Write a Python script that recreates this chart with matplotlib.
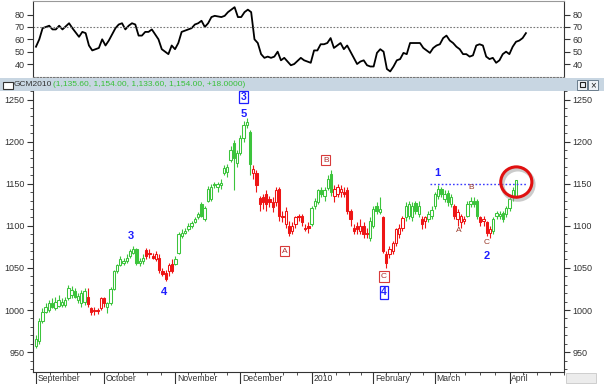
import numpy as np
import matplotlib.pyplot as plt
from matplotlib.patches import Ellipse, Rectangle
from matplotlib.transforms import blended_transform_factory

plt.rcParams['font.family'] = ['Liberation Sans', 'DejaVu Sans']

# daily bars of GCM2010, Sep 2009 - Apr 2010
opens = [957, 963, 987, 998, 1000, 1008, 1002, 1005, 1006, 1006, 1014, 1018, 1022, 1012, 1008, 1010,
         1016, 1002, 1000, 1000, 1002, 1014, 1003, 1008, 1025, 1046, 1054, 1056, 1058, 1064, 1068, 1072,
         1056, 1058, 1071, 1068, 1064, 1060, 1062, 1046, 1044, 1046, 1055, 1055, 1068, 1088, 1092, 1096,
         1100, 1105, 1110, 1126, 1108, 1130, 1132, 1150, 1146, 1148, 1163, 1164, 1178, 1198, 1175, 1187,
         1204, 1220, 1211, 1163, 1163, 1133, 1134, 1138, 1132, 1128, 1128, 1144, 1112, 1102, 1100, 1094,
         1102, 1112, 1112, 1098, 1100, 1102, 1124, 1128, 1142, 1136, 1145, 1162, 1136, 1138, 1140, 1140,
         1142, 1118, 1098, 1100, 1094, 1100, 1092, 1086, 1100, 1124, 1116, 1110, 1066, 1066, 1070, 1080,
         1090, 1097, 1110, 1112, 1110, 1127, 1114, 1108, 1106, 1108, 1112, 1124, 1136, 1144, 1132, 1139,
         1126, 1124, 1108, 1104, 1106, 1112, 1126, 1130, 1130, 1110, 1106, 1104, 1092, 1094, 1112, 1112,
         1115, 1114, 1121, 1134, 1135.6]
closes = [966, 987, 998, 1004, 1008, 1004, 1010, 1012, 1010, 1012, 1026, 1024, 1016, 1017, 1020, 1022,
          1007, 998, 999, 999, 1014, 1008, 1008, 1025, 1046, 1053, 1060, 1058, 1062, 1070, 1072, 1056,
          1058, 1062, 1064, 1066, 1062, 1066, 1048, 1043, 1037, 1053, 1046, 1060, 1090, 1092, 1094, 1100,
          1103, 1108, 1114, 1112, 1121, 1144, 1146, 1148, 1150, 1151, 1169, 1170, 1190, 1181, 1187, 1204,
          1220, 1223, 1174, 1168, 1148, 1126, 1128, 1126, 1128, 1122, 1142, 1112, 1110, 1118, 1092, 1100,
          1110, 1111, 1104, 1096, 1097, 1121, 1130, 1142, 1138, 1142, 1156, 1140, 1144, 1146, 1144, 1138,
          1118, 1108, 1094, 1096, 1100, 1090, 1090, 1106, 1120, 1118, 1120, 1070, 1056, 1072, 1080, 1096,
          1098, 1109, 1124, 1126, 1124, 1118, 1124, 1102, 1110, 1114, 1119, 1138, 1144, 1138, 1138, 1128,
          1134, 1112, 1116, 1112, 1108, 1126, 1130, 1126, 1112, 1104, 1108, 1092, 1096, 1108, 1115, 1114,
          1108, 1121, 1132, 1142, 1154]
highs = [970, 990, 1002, 1008, 1012, 1014, 1016, 1018, 1014, 1016, 1030, 1028, 1026, 1020, 1024, 1026,
         1026, 1004, 1003, 1002, 1016, 1016, 1010, 1027, 1048, 1055, 1064, 1062, 1066, 1073, 1076, 1074,
         1062, 1066, 1074, 1072, 1068, 1070, 1066, 1050, 1048, 1056, 1060, 1064, 1093, 1096, 1097, 1103,
         1106, 1110, 1117, 1128, 1124, 1147, 1150, 1152, 1152, 1156, 1172, 1174, 1195, 1202, 1190, 1208,
         1224, 1228, 1214, 1172, 1166, 1136, 1138, 1142, 1136, 1134, 1146, 1146, 1118, 1122, 1106, 1104,
         1112, 1114, 1114, 1102, 1104, 1124, 1133, 1144, 1146, 1146, 1160, 1166, 1148, 1150, 1148, 1146,
         1146, 1120, 1102, 1104, 1108, 1104, 1098, 1110, 1124, 1128, 1134, 1112, 1070, 1076, 1082, 1098,
         1102, 1112, 1128, 1130, 1128, 1130, 1130, 1112, 1112, 1118, 1124, 1140, 1148, 1146, 1142, 1142,
         1138, 1126, 1120, 1114, 1112, 1130, 1134, 1134, 1132, 1112, 1112, 1106, 1100, 1110, 1118, 1118,
         1118, 1124, 1134, 1146, 1154]
lows = [955, 960, 985, 996, 998, 1002, 1000, 1003, 1004, 1003, 1012, 1014, 1014, 1008, 1004, 1006,
        1004, 994, 994, 995, 1000, 1004, 996, 1006, 1024, 1044, 1052, 1054, 1056, 1062, 1066, 1053,
        1052, 1055, 1060, 1062, 1060, 1058, 1044, 1040, 1034, 1040, 1044, 1053, 1066, 1086, 1090, 1094,
        1098, 1103, 1108, 1110, 1106, 1128, 1130, 1145, 1140, 1144, 1160, 1158, 1176, 1142, 1170, 1184,
        1200, 1216, 1160, 1156, 1140, 1118, 1120, 1118, 1122, 1116, 1124, 1106, 1104, 1098, 1088, 1090,
        1098, 1106, 1100, 1094, 1092, 1100, 1120, 1126, 1134, 1130, 1142, 1136, 1128, 1134, 1134, 1134,
        1114, 1100, 1090, 1090, 1090, 1086, 1086, 1082, 1098, 1114, 1114, 1068, 1050, 1062, 1066, 1076,
        1086, 1094, 1106, 1108, 1106, 1114, 1110, 1096, 1098, 1104, 1108, 1120, 1132, 1134, 1128, 1124,
        1122, 1108, 1100, 1098, 1102, 1110, 1122, 1122, 1108, 1100, 1100, 1088, 1086, 1090, 1108, 1108,
        1104, 1110, 1118, 1130, 1133.6]
# bar ranges drawn in red (down-trend), inclusive
red_spans = [(16, 21), (34, 42), (67, 84), (92, 102), (107, 113), (119, 120), (129, 132), (137, 140)]

# oscillator in the upper pane
rsi_day = [0, 1, 2, 3, 4, 5, 6, 7, 8, 10, 11, 13, 14, 15, 16, 17, 19, 20, 21, 22, 24, 25, 26, 27, 28,
           29, 30, 31, 32, 33, 34, 35, 36, 37, 38, 39, 40, 41, 42, 43, 44, 45, 47, 48, 49, 50, 51, 52,
           53, 54, 56, 57, 58, 59, 60, 61, 62, 63, 64, 65, 66, 67, 68, 69, 70, 71, 72, 73, 74, 75, 76,
           77, 78, 80, 81, 83, 84, 85, 86, 87, 88, 89, 90, 91, 92, 93, 94, 96, 97, 98, 99, 100, 101,
           102, 103, 104, 105, 106, 107, 108, 109, 110, 111, 112, 113, 114, 116, 117, 119, 120, 121,
           122, 123, 124, 125, 126, 127, 128, 129, 130, 131, 132, 133, 134, 135, 136, 137, 138, 139,
           140, 141, 142, 143, 144, 145, 146, 147, 148]
rsi_val = [54, 60, 69, 70, 71, 68, 68, 71, 68, 73, 69, 62, 66, 65, 55, 51, 53, 60, 55, 59, 69, 72, 73, 68, 71,
           73, 72, 63, 63, 66, 66, 68, 64, 60, 52, 50, 48, 55, 52, 57, 66, 67, 69, 72, 73, 75, 70, 73,
           78, 79, 78, 79, 82, 84, 86, 78, 78, 82, 84, 82, 60, 57, 48, 45, 46, 45, 46, 50, 43, 45, 42,
           39, 40, 45, 43, 41, 51, 51, 56, 56, 57, 61, 53, 55, 57, 52, 55, 45, 40, 42, 43, 39, 38,
           38, 49, 52, 50, 36, 34, 38, 43, 44, 49, 48, 57, 57, 57, 53, 49, 53, 55,
           56, 61, 63, 59, 57, 54, 52, 48, 48, 46, 47, 55, 56, 55, 46, 44, 45, 41,
           43, 48, 50, 48, 54, 58, 59, 61, 65]

month_day = [0, 21, 43, 63, 85, 104, 123, 146]
month_names = ['September', 'October', 'November', 'December', '2010', 'February', 'March', 'April']
price_ticks = [950, 1000, 1050, 1100, 1150, 1200, 1250]
rsi_ticks = [40, 50, 60, 70, 80]

GREEN = '#3cc43c'
RED = '#ee1515'
BLUE = '#1f1fff'
BOXRED = '#d83a3a'

W, H = 604, 384
fig = plt.figure(figsize=(W / 100, H / 100), dpi=100)


def box(l, t, r, b):
    return [l / W, 1 - b / H, (r - l) / W, (b - t) / H]


xlim = (-0.9, 159.5)

# ---- upper oscillator pane
ax_r = fig.add_axes(box(33, 1, 564, 77))
ax_r.plot(rsi_day, rsi_val, color='black', lw=1.3)
ax_r.axhline(70, color='#777777', lw=0.8, ls=(0, (1.5, 1.5)))
ax_r.set_xlim(*xlim)
ax_r.set_ylim(29.5, 91)
ax_r.set_yticks(rsi_ticks)
ax_r.set_xticks([])
ax_r.tick_params(axis='y', which='both', left=True, right=True, labelleft=True, labelright=True,
                 direction='out', length=4, width=0.8, labelsize=6.5, colors='#333333', pad=2)
ax_r.spines['bottom'].set_linestyle((0, (1.5, 1.5)))
ax_r.spines['bottom'].set_color('#777777')
ax_r.spines['top'].set_color('#999999')
for s in ('left', 'right'):
    ax_r.spines[s].set_color('#333333')

# ---- title bar
ax_h = fig.add_axes(box(0, 78, 604, 91))
ax_h.set_facecolor('#c8d6e2')
ax_h.set_xlim(0, W)
ax_h.set_ylim(13, 0)
ax_h.set_xticks([])
ax_h.set_yticks([])
for s in ax_h.spines.values():
    s.set_visible(False)
ax_h.add_patch(Rectangle((3, 3.5), 10, 7, facecolor='white', edgecolor='#333333', lw=0.8))
ax_h.text(14, 7, 'GCM2010', fontsize=6, color='#333333', va='center', ha='left')
ax_h.text(53, 7, '(1,135.60, 1,154.00, 1,133.60, 1,154.00, +18.0000)', fontsize=6,
          color='#38c038', va='center', ha='left')
for bx in (577, 588):
    ax_h.add_patch(Rectangle((bx, 1.5), 10, 10, facecolor='#eef2f6', edgecolor='#6a7c8c', lw=0.7))
ax_h.add_patch(Rectangle((579.5, 4), 5, 5, facecolor='none', edgecolor='#222222', lw=0.8))
ax_h.text(593, 6.8, '×', fontsize=7, color='#222222', ha='center', va='center')

# ---- price pane
ax = fig.add_axes(box(33, 91, 564, 372))
o = np.array(opens, float)
c = np.array(closes, float)
h = np.array(highs, float)
l = np.array(lows, float)
x = np.arange(len(c))
col = np.array([GREEN] * len(c), dtype=object)
for a, b in red_spans:
    col[a:b + 1] = RED
up = c >= o
ax.vlines(x, l, h, colors=list(col), lw=0.8, zorder=2)
bottom = np.minimum(o, c)
height = np.maximum(np.abs(c - o), 1.0)
face = [('white' if u else cc) for u, cc in zip(up, col)]
ax.bar(x, height, width=0.72, bottom=bottom, color=face, edgecolor=list(col), linewidth=0.75, zorder=3)

ax.set_xlim(*xlim)
ax.set_ylim(926.4, 1260.1)
ax.set_yticks(price_ticks)
ax.set_yticks(np.arange(930, 1261, 10), minor=True)
ax.tick_params(axis='y', which='major', left=True, right=True, labelleft=True, labelright=True,
               direction='out', length=4, width=0.8, labelsize=6.5, colors='#333333', pad=2)
ax.tick_params(axis='y', which='minor', left=True, right=True, direction='out', length=2,
               width=0.6, colors='#333333')
ax.set_xticks(month_day)
ax.set_xticklabels([])
minor = []
edges = month_day + [month_day[-1] + 21]
for a, b in zip(edges[:-1], edges[1:]):
    minor += list(np.linspace(a, b, 6)[1:-1])
ax.set_xticks(minor, minor=True)
ax.tick_params(axis='x', which='major', direction='out', length=11, width=0.8, colors='#333333')
ax.tick_params(axis='x', which='minor', direction='out', length=2.5, width=0.6, colors='#333333')
for s in ('left', 'right', 'bottom'):
    ax.spines[s].set_color('#333333')
ax.spines['top'].set_visible(False)

trans = blended_transform_factory(ax.transData, ax.transAxes)
for d, name in zip(month_day, month_names):
    ax.text(d + 0.5, -0.024, name, transform=trans, fontsize=6.2, color='#333333',
            ha='left', va='center', clip_on=False)

# wave labels
for t, xd, yp in [('3', 29.3, 1088), ('4', 39.6, 1021), ('5', 64, 1233), ('1', 123.6, 1163),
                  ('2', 139, 1064)]:
    ax.text(xd, yp, t, color=BLUE, fontsize=8, fontweight='bold', ha='center', va='center', zorder=5)
for t, xd, yp in [('3', 64, 1253), ('4', 107.3, 1021)]:
    ax.text(xd, yp, t, color=BLUE, fontsize=7.5, fontweight='bold', ha='center', va='center', zorder=5,
            bbox=dict(boxstyle='square,pad=0.12', facecolor='white', edgecolor=BLUE, lw=0.9))
for t, xd, yp in [('B', 89.4, 1178), ('A', 76.7, 1070), ('C', 107.3, 1040)]:
    ax.text(xd, yp, t, color='#b03030', fontsize=6, ha='center', va='center', zorder=5,
            bbox=dict(boxstyle='square,pad=0.2', facecolor='white', edgecolor=BOXRED, lw=0.8))
for t, xd, yp in [('B', 134.1, 1146), ('A', 130.5, 1095), ('C', 139, 1080)]:
    ax.text(xd, yp, t, color='#9a3a2a', fontsize=6, ha='center', va='center', zorder=5)

# resistance line and highlight ring on the last bar
ax.plot([121.5, 151.4], [1149.5, 1149.5], color='#3a3aff', lw=1.0, ls=(0, (1.2, 1.5)), zorder=4)
ax.add_patch(Ellipse((148.6, 1149), 9.6, 36, facecolor='none', edgecolor='#999999', lw=3,
                     alpha=0.5, zorder=4))
ax.add_patch(Ellipse((148.1, 1152), 9.6, 36, facecolor='none', edgecolor='#e01010', lw=2.2, zorder=6))

# scroll box at the lower right
fig.patches.append(Rectangle((566 / W, 1 - 383 / H), 30 / W, 10 / H, transform=fig.transFigure,
                             facecolor='#ececec', edgecolor='#c8c8c8', lw=0.6))

fig.savefig('out.png', dpi=100)
